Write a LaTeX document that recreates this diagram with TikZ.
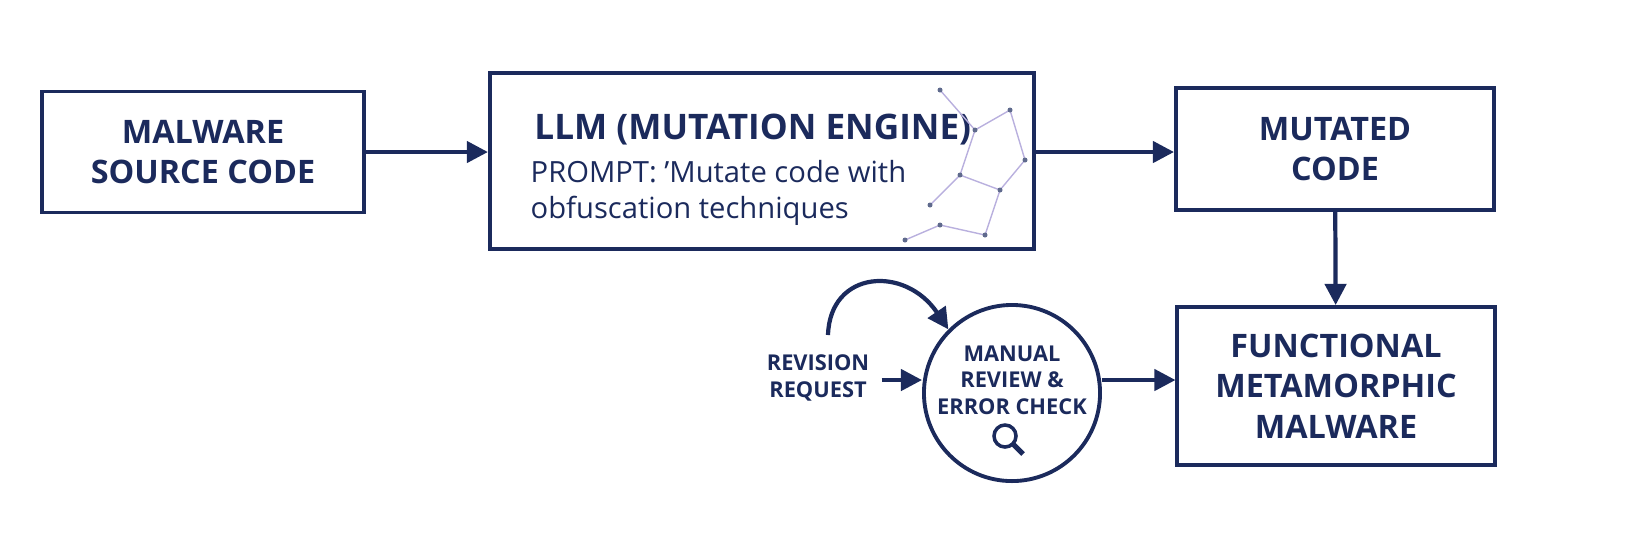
\documentclass[tikz,border=0pt]{standalone}
\usepackage{fontspec}
\setmainfont{Open Sans}
\usetikzlibrary{arrows.meta}
\definecolor{navy}{HTML}{1B2A5C}
\definecolor{netc}{HTML}{8A7BC8}
\begin{document}
\begin{tikzpicture}[x=0.01cm,y=-0.01cm]
	\tikzset{box style/.style={draw=navy, line width=1.1pt, text=navy, font=\bfseries\fontsize{9.2}{11.5}\selectfont, align=center},
		flow/.style={draw=navy, line width=1.2pt, -{Triangle[length=6pt,width=6pt]}}}
\useasboundingbox (0,0) rectangle (1633,544);

\node[box style, minimum width=3.22cm, minimum height=1.21cm] at (203, 152)     (src)     {MALWARE\\SOURCE CODE};
\node[box style, minimum width=5.44cm, minimum height=1.76cm] at (762, 161)     (llm)     {};
\node[anchor=west, text=navy, font=\bfseries\fontsize{10}{12}\selectfont] at (522, 130) (llmtitle) {LLM (MUTATION ENGINE)};
\node[anchor=north west, text=navy, font=\fontsize{8.3}{10}\selectfont, align=left, inner sep=0pt] at (530, 160) (prompt) {PROMPT: 'Mutate code with\\obfuscation techniques};
\node[box style, minimum width=3.18cm, minimum height=1.22cm] at (1335, 149)     (mut)     {MUTATED\\CODE};
\node[box style, minimum width=3.17cm, minimum height=1.58cm] at (1336, 386)     (func)     {FUNCTIONAL\\METAMORPHIC\\MALWARE};
\node[circle, draw=navy, line width=1.1pt, minimum size=1.76cm, inner sep=0pt] at (1012, 393)     (rev)     {};
\node[text=navy, font=\bfseries\fontsize{6.2}{7.6}\selectfont, align=center] at (1012, 380) (revtext) {MANUAL\\REVIEW \&\\ERROR CHECK};
\node[text=navy, font=\bfseries\fontsize{6.2}{7.6}\selectfont, align=center] at (818, 378)     (req)     {REVISION\\REQUEST};
\coordinate (loopstart) at (828, 335);

% magnifier
\draw[navy, line width=1pt] (1005, 436) circle (0.11cm);
\draw[navy, line width=1.5pt] (1013, 444) -- (1023, 454);

% network decoration
\foreach \a/\b/\c/\d in {940/90/975/130, 975/130/1010/110, 975/130/960/175, 960/175/1000/190, 1000/190/985/235, 985/235/940/225, 1010/110/1025/160, 1025/160/1000/190, 940/225/905/240, 960/175/930/205}
	\draw[netc!60, line width=0.4pt] (\a,\b) -- (\c,\d);
\foreach \p in {(940,90),(975,130),(1010,110),(960,175),(1000,190),(985,235),(940,225),(1025,160),(905,240),(930,205)}
	\fill[navy!70] \p circle (0.025cm);

\draw[flow] (src) -- (llm.west |- src);
\draw[flow] (llm.east |- src) -- (mut.west |- src);
\draw[flow] (mut) -- (func);
\draw[flow] (rev.east |- 0,380) -- (func.west |- 0,380);
\draw[flow] (req.east |- 0,380) -- (rev.west |- 0,380);
\draw[flow] (loopstart) .. controls (830, 270) and (905, 265) .. (rev.north west);
\end{tikzpicture}
\end{document}
